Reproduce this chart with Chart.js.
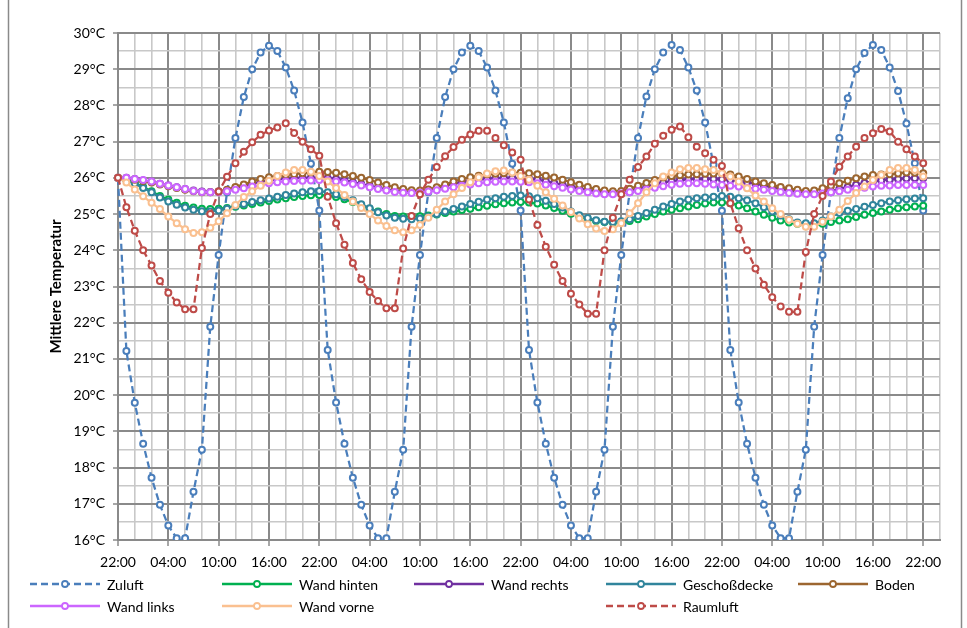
<!DOCTYPE html>
<html>
<head>
<meta charset="utf-8">
<script src="https://cdn.jsdelivr.net/npm/chart.js@4.4.1/dist/chart.umd.min.js"></script>
<style>
  html, body { margin: 0; padding: 0; background: #ffffff; }
  #wrap { position: relative; width: 967px; height: 628px; }
  canvas { display: block; }
</style>
</head>
<body>
<div id="wrap"><canvas id="chart" width="967" height="628"></canvas></div>
<script>
// Hourly temperatures over four days, 22:00 to 22:00 (°C)
const zuluft = [26.0,
  21.22,19.79,18.66,17.72,16.97,16.40,16.05,16.05,17.33,18.49,21.89,23.87,25.60,27.10,28.23,29.00,29.46,29.65,29.50,29.05,28.41,27.53,26.39,25.10,
  21.25,19.80,18.66,17.72,16.97,16.40,16.05,16.05,17.33,18.49,21.89,23.87,25.60,27.10,28.23,29.00,29.46,29.65,29.50,29.05,28.41,27.53,26.39,25.10,
  21.25,19.80,18.66,17.72,16.97,16.40,16.05,16.05,17.33,18.49,21.89,23.87,25.60,27.10,28.25,29.00,29.46,29.67,29.53,29.05,28.41,27.53,26.36,25.09,
  21.25,19.80,18.66,17.72,16.97,16.40,16.05,16.05,17.33,18.49,21.89,23.87,25.60,27.10,28.20,29.00,29.45,29.67,29.53,29.05,28.40,27.50,26.40,25.10];

const wandHinten = [26.0,
  25.95,25.86,25.75,25.63,25.50,25.40,25.31,25.23,25.18,25.15,25.14,25.15,25.17,25.20,25.24,25.28,25.32,25.36,25.40,25.44,25.47,25.50,25.52,25.53,
  25.51,25.47,25.41,25.33,25.24,25.15,25.07,25.00,24.95,24.93,24.93,24.94,24.96,24.99,25.03,25.07,25.11,25.15,25.19,25.23,25.27,25.30,25.32,25.33,
  25.32,25.29,25.24,25.17,25.09,25.01,24.93,24.86,24.81,24.78,24.77,24.78,24.81,24.86,24.93,25.00,25.07,25.12,25.16,25.21,25.25,25.29,25.32,25.32,
  25.30,25.24,25.16,25.07,24.98,24.90,24.82,24.77,24.73,24.71,24.70,24.73,24.78,24.82,24.86,24.92,24.98,25.03,25.07,25.12,25.16,25.19,25.21,25.23];

const wandRechts = [26.0,
  26.00,25.97,25.93,25.89,25.84,25.79,25.74,25.69,25.65,25.62,25.61,25.62,25.66,25.72,25.78,25.84,25.89,25.93,25.96,25.98,25.99,26.00,26.00,26.00,
  25.99,25.97,25.93,25.88,25.83,25.78,25.73,25.68,25.64,25.61,25.60,25.62,25.66,25.72,25.78,25.84,25.89,25.93,25.96,25.98,25.99,26.00,26.00,25.99,
  25.98,25.95,25.91,25.86,25.81,25.76,25.71,25.66,25.62,25.59,25.58,25.60,25.64,25.70,25.76,25.82,25.87,25.91,25.94,25.96,25.97,25.97,25.97,25.96,
  25.94,25.92,25.88,25.84,25.79,25.74,25.69,25.65,25.61,25.58,25.57,25.59,25.63,25.69,25.75,25.81,25.86,25.90,25.93,25.95,25.97,25.98,25.99,25.99];

const geschossdecke = [26.0,
  25.94,25.84,25.72,25.60,25.46,25.35,25.26,25.18,25.12,25.08,25.07,25.10,25.15,25.22,25.28,25.33,25.38,25.43,25.48,25.53,25.57,25.60,25.63,25.64,
  25.60,25.55,25.47,25.38,25.27,25.16,25.05,24.96,24.90,24.87,24.86,24.88,24.93,25.00,25.07,25.14,25.21,25.28,25.34,25.40,25.44,25.48,25.50,25.51,
  25.49,25.44,25.37,25.28,25.18,25.07,24.97,24.89,24.83,24.79,24.78,24.80,24.86,24.95,25.03,25.12,25.21,25.28,25.35,25.40,25.44,25.46,25.48,25.50,
  25.48,25.44,25.38,25.30,25.19,25.07,24.96,24.86,24.77,24.75,24.75,24.82,24.93,25.03,25.09,25.14,25.20,25.25,25.30,25.35,25.38,25.41,25.43,25.44];

const boden = [26.0,
  25.98,25.95,25.91,25.87,25.82,25.77,25.72,25.67,25.63,25.60,25.60,25.62,25.67,25.75,25.82,25.90,25.97,26.02,26.05,26.08,26.10,26.13,26.15,26.17,
  26.16,26.14,26.10,26.05,26.00,25.94,25.87,25.80,25.74,25.69,25.66,25.65,25.68,25.74,25.82,25.90,25.97,26.02,26.06,26.09,26.11,26.13,26.14,26.14,
  26.13,26.10,26.06,26.01,25.95,25.88,25.81,25.75,25.69,25.65,25.63,25.64,25.70,25.78,25.86,25.94,26.01,26.05,26.07,26.09,26.10,26.11,26.12,26.13,
  26.09,26.04,25.97,25.90,25.85,25.80,25.75,25.71,25.67,25.64,25.65,25.71,25.78,25.85,25.92,25.99,26.04,26.08,26.09,26.10,26.12,26.15,26.14,26.13];

const wandLinks = [26.0,
  26.00,25.97,25.94,25.90,25.84,25.79,25.74,25.69,25.64,25.61,25.60,25.60,25.63,25.67,25.71,25.76,25.80,25.85,25.88,25.90,25.91,25.92,25.93,25.94,
  25.93,25.90,25.87,25.83,25.79,25.74,25.69,25.65,25.61,25.59,25.58,25.59,25.62,25.66,25.70,25.74,25.78,25.82,25.85,25.88,25.89,25.90,25.90,25.89,
  25.88,25.85,25.81,25.77,25.73,25.68,25.64,25.60,25.57,25.55,25.55,25.57,25.60,25.64,25.68,25.73,25.77,25.81,25.84,25.85,25.85,25.84,25.82,25.80,
  25.78,25.76,25.73,25.70,25.67,25.64,25.61,25.58,25.56,25.55,25.55,25.57,25.60,25.63,25.67,25.70,25.73,25.76,25.78,25.79,25.80,25.80,25.80,25.80];

const wandVorne = [26.0,
  25.87,25.68,25.49,25.31,25.14,24.93,24.75,24.58,24.48,24.50,24.62,24.80,25.02,25.25,25.47,25.63,25.78,25.92,26.05,26.15,26.22,26.22,26.17,26.05,
  25.90,25.72,25.53,25.35,25.17,25.00,24.82,24.67,24.55,24.50,24.55,24.70,24.90,25.12,25.35,25.55,25.72,25.88,26.02,26.12,26.18,26.20,26.15,26.05,
  25.95,25.78,25.60,25.42,25.24,25.06,24.88,24.72,24.60,24.53,24.58,24.75,25.02,25.30,25.60,25.85,26.04,26.15,26.24,26.27,26.27,26.24,26.22,26.13,
  26.04,25.90,25.71,25.51,25.35,25.16,25.00,24.84,24.73,24.65,24.65,24.79,24.93,25.12,25.36,25.58,25.76,25.94,26.08,26.22,26.27,26.27,26.22,26.04];

const raumluft = [26.0,
  25.19,24.54,24.00,23.58,23.15,22.83,22.56,22.37,22.37,24.06,25.00,25.62,26.03,26.40,26.72,26.98,27.19,27.31,27.39,27.51,27.24,27.00,26.79,26.61,
  25.48,24.75,24.15,23.65,23.20,22.85,22.60,22.40,22.40,24.05,24.95,25.55,25.95,26.30,26.60,26.85,27.05,27.20,27.30,27.30,27.10,26.90,26.70,26.50,
  25.40,24.70,24.10,23.60,23.15,22.80,22.50,22.25,22.25,24.00,24.90,25.55,25.95,26.30,26.59,26.94,27.16,27.33,27.42,27.12,26.86,26.68,26.50,26.33,
  25.30,24.61,24.00,23.50,23.05,22.70,22.45,22.30,22.30,23.95,25.00,25.50,25.90,26.31,26.59,26.86,27.10,27.23,27.35,27.28,27.00,26.79,26.59,26.40];

// Hour labels: 22:00 on the first day, one per hour, two spare hours at the end of the axis
const startHour = 22;
const axisHours = 98;
const timeLabels = [];
for (let i = 0; i <= axisHours; i++) {
  timeLabels.push(String((startHour + i) % 24).padStart(2, '0') + ':00');
}

const yMin = 16, yMax = 30;

const FONT = 'Lato, "Open Sans", sans-serif';
const MAJOR = '#8a8a8a';
const MINOR = '#c8c8c8';

const seriesDefs = [
  { label: 'Zuluft',       data: zuluft,        color: '#4a7ebb', dashed: true,  col: 0, row: 0 },
  { label: 'Wand hinten',  data: wandHinten,    color: '#00b050', dashed: false, col: 1, row: 0 },
  { label: 'Wand rechts',  data: wandRechts,    color: '#7030a0', dashed: false, col: 2, row: 0 },
  { label: 'Geschoßdecke', data: geschossdecke, color: '#31859c', dashed: false, col: 3, row: 0 },
  { label: 'Boden',        data: boden,         color: '#9c6630', dashed: false, col: 4, row: 0 },
  { label: 'Wand links',   data: wandLinks,     color: '#cc66ff', dashed: false, col: 0, row: 1 },
  { label: 'Wand vorne',   data: wandVorne,     color: '#fac090', dashed: false, col: 1, row: 1 },
  { label: 'Raumluft',     data: raumluft,      color: '#be4b48', dashed: true,  col: 3, row: 1 }
];

const datasets = seriesDefs.map((s, i) => ({
  label: s.label,
  data: s.data,
  borderColor: s.color,
  backgroundColor: '#ffffff',
  borderWidth: 2.25,
  borderDash: s.dashed ? [7, 4] : [],
  pointRadius: 3,
  pointBorderWidth: 2,
  pointBackgroundColor: '#ffffff',
  pointBorderColor: s.color,
  tension: 0,
  fill: false,
  order: seriesDefs.length - i
}));

// Legend laid out in a grid below the axis, plus the outer frame
const legendAndFrame = {
  id: 'legendAndFrame',
  afterDraw(chart) {
    const ctx = chart.ctx;
    ctx.save();
    ctx.strokeStyle = '#8a8a8a';
    ctx.lineWidth = 1.5;
    ctx.strokeRect(8.5, -4, 953, 640);

    const colX = [30, 222, 414, 606, 798];
    const rowY = [584, 606];
    ctx.font = '14px ' + FONT;
    ctx.textBaseline = 'middle';
    ctx.textAlign = 'left';
    seriesDefs.forEach(s => {
      const x = colX[s.col], y = rowY[s.row];
      ctx.strokeStyle = s.color;
      ctx.lineWidth = 2.5;
      ctx.setLineDash(s.dashed ? [7, 4] : []);
      ctx.beginPath();
      ctx.moveTo(x, y);
      ctx.lineTo(x + 70, y);
      ctx.stroke();
      ctx.setLineDash([]);
      ctx.beginPath();
      ctx.arc(x + 35, y, 3, 0, Math.PI * 2);
      ctx.fillStyle = '#ffffff';
      ctx.fill();
      ctx.lineWidth = 1.8;
      ctx.stroke();
      ctx.fillStyle = '#000000';
      ctx.fillText(s.label, x + 77, y + 1);
    });
    ctx.restore();
  }
};

new Chart(document.getElementById('chart'), {
  type: 'line',
  data: { labels: timeLabels, datasets },
  options: {
    responsive: false,
    animation: false,
    devicePixelRatio: 1,
    layout: { padding: { left: 0, top: 33, right: 27, bottom: 0 } },
    plugins: { legend: { display: false }, tooltip: { enabled: false } },
    elements: { line: { capBezierPoints: false } },
    scales: {
      x: {
        type: 'category',
        offset: false,
        border: { color: MAJOR, width: 2 },
        grid: {
          offset: false,
          drawTicks: true,
          tickLength: 6,
          color: c => (c.index % 6 === 0 ? MAJOR : (c.index % 2 === 0 ? MINOR : 'rgba(0,0,0,0)')),
          lineWidth: c => (c.index % 6 === 0 ? 2 : 1.6),
          tickColor: c => (c.index % 6 === 0 ? MAJOR : 'rgba(0,0,0,0)'),
          tickWidth: 1.5
        },
        ticks: {
          autoSkip: false,
          maxRotation: 0,
          minRotation: 0,
          padding: 8,
          color: '#000000',
          font: { family: FONT, size: 14 },
          callback: function (v, i) { return i % 6 === 0 ? this.getLabelForValue(v) : ''; }
        },
        afterFit: s => { s.height = 88; }
      },
      y: {
        type: 'linear',
        min: yMin,
        max: yMax,
        border: { color: MAJOR, width: 2 },
        grid: {
          drawTicks: true,
          tickLength: 5,
          color: c => (Number.isInteger(c.tick.value) ? MAJOR : MINOR),
          lineWidth: c => (Number.isInteger(c.tick.value) ? 2 : 1.6),
          tickColor: c => (Number.isInteger(c.tick.value) ? MAJOR : 'rgba(0,0,0,0)'),
          tickWidth: 1.5
        },
        ticks: {
          stepSize: 0.5,
          maxTicksLimit: 100,
          autoSkip: false,
          padding: 8,
          color: '#000000',
          font: { family: FONT, size: 14 },
          callback: v => (Number.isInteger(v) ? v + '°C' : '')
        },
        title: {
          display: true,
          text: 'Mittlere Temperatur',
          color: '#000000',
          font: { family: FONT, size: 15, weight: 'bold' },
          padding: { top: 47, bottom: 0 }
        },
        afterFit: s => { s.width = 118; }
      }
    }
  },
  plugins: [legendAndFrame]
});
</script>
</body>
</html>
